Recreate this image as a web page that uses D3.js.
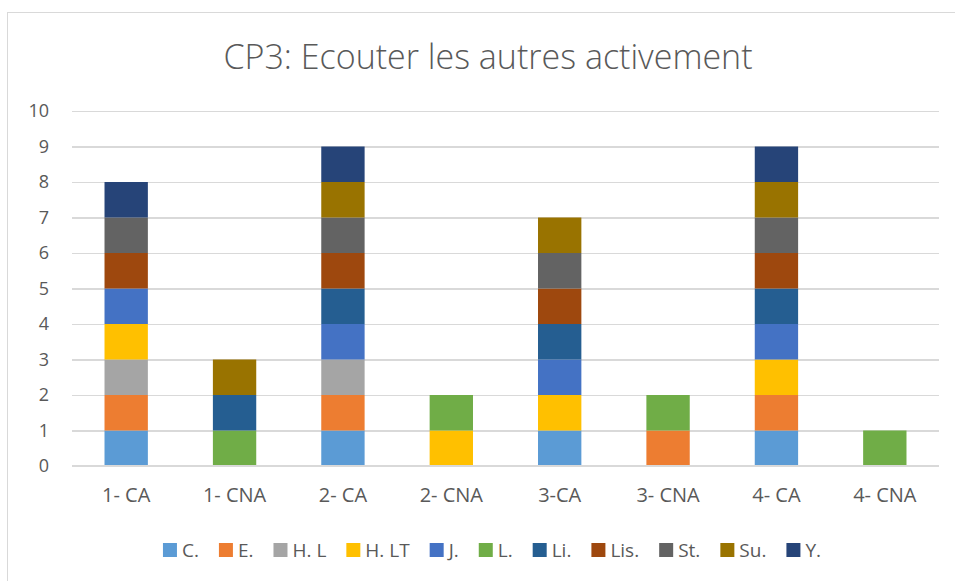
<!DOCTYPE html>
<html>
<head>
<meta charset="utf-8">
<script src="https://cdn.jsdelivr.net/npm/d3@7"></script>
<style>
	body { margin: 0; background: #fff; }
	svg text { font-family: "Open Sans", sans-serif; }
	.grid line { stroke: #d9d9d9; stroke-width: 1.3; shape-rendering: crispEdges; }
	.grid path { display: none; }
	.grid text, .xaxis text { fill: #595959; }
	.xaxis path, .xaxis line { display: none; }
	.frame { fill: none; stroke: #d9d9d9; }
</style>
</head>
<body>
<script>
	// categories on the x axis
	var categories = ["1- CA", "1- CNA", "2- CA", "2- CNA", "3-CA", "3- CNA", "4- CA", "4- CNA"];
	// series names (legend order = stacking order)
	var seriesNames = ["C.", "E.", "H. L", "H. LT", "J.", "L.", "Li.", "Lis.", "St.", "Su.", "Y."];
	var seriesColors = ["#5b9bd5", "#ed7d31", "#a5a5a5", "#ffc000", "#4472c4", "#70ad47", "#255e91", "#9e480e", "#636363", "#997300", "#264478"];
	// one value per category, for each series
	var C   = [1, 0, 1, 0, 1, 0, 1, 0];
	var E   = [1, 0, 1, 0, 0, 1, 1, 0];
	var HL  = [1, 0, 1, 0, 0, 0, 0, 0];
	var HLT = [1, 0, 0, 1, 1, 0, 1, 0];
	var J   = [1, 0, 1, 0, 1, 0, 1, 0];
	var L   = [0, 1, 0, 1, 0, 1, 0, 1];
	var Li  = [0, 1, 1, 0, 1, 0, 1, 0];
	var Lis = [1, 0, 1, 0, 1, 0, 1, 0];
	var St  = [1, 0, 1, 0, 1, 0, 1, 0];
	var Su  = [0, 1, 1, 0, 1, 0, 1, 0];
	var Y   = [1, 0, 1, 0, 0, 0, 1, 0];
	var yTicks = [0, 1, 2, 3, 4, 5, 6, 7, 8, 9, 10];
	var title = "CP3: Ecouter les autres activement";

	var seriesValues = [C, E, HL, HLT, J, L, Li, Lis, St, Su, Y];

	var w = 955, h = 581;
	var margin = {left: 72, right: 16, top: 111, bottom: 115};

	// table for d3.stack
	var table = categories.map(function (c, i) {
		var row = {cat: c};
		seriesNames.forEach(function (s, k) { row[s] = seriesValues[k][i]; });
		return row;
	});
	var stacked = d3.stack().keys(seriesNames)(table);

	var svg = d3.select("body").append("svg")
		.attr("width", w)
		.attr("height", h);

	svg.append("rect")
		.attr("class", "frame")
		.attr("x", 7.5)
		.attr("y", 12.5)
		.attr("width", 1000)
		.attr("height", 700);

	svg.append("text")
		.attr("x", 488)
		.attr("y", 69)
		.attr("text-anchor", "middle")
		.attr("fill", "#595959")
		.style("font-size", "34px")
		.style("font-weight", 300)
		.text(title);

	var x = d3.scaleBand()
		.domain(categories)
		.range([margin.left, w - margin.right])
		.padding(0);

	var y = d3.scaleLinear()
		.domain([0, 10])
		.range([h - margin.bottom, margin.top]);

	var plotW = w - margin.right - margin.left;

	svg.append("g")
		.attr("class", "grid")
		.attr("transform", "translate(" + margin.left + ",0)")
		.call(d3.axisLeft(y).tickValues(yTicks).tickSize(-plotW).tickPadding(23))
		.selectAll("text")
		.style("font-size", "18px");

	var barW = x.bandwidth() * 0.4;

	svg.append("g").selectAll("g")
		.data(stacked)
		.enter().append("g")
		.attr("fill", function (d, i) { return seriesColors[i]; })
		.selectAll("rect")
		.data(function (d) { return d; })
		.enter().append("rect")
		.filter(function (d) { return d[1] - d[0] > 0; })
		.attr("x", function (d) { return x(d.data.cat) + (x.bandwidth() - barW) / 2; })
		.attr("y", function (d) { return y(d[1]); })
		.attr("width", barW)
		.attr("height", function (d) { return y(d[0]) - y(d[1]); });

	// zero line on top
	svg.append("line")
		.attr("x1", margin.left).attr("x2", w - margin.right)
		.attr("y1", y(0)).attr("y2", y(0))
		.attr("stroke", "#d9d9d9").attr("stroke-width", 2);

	svg.append("g")
		.attr("class", "xaxis")
		.attr("transform", "translate(0," + y(0) + ")")
		.call(d3.axisBottom(x).tickSize(0).tickPadding(22))
		.selectAll("text")
		.style("font-size", "20px");

	// legend
	var legend = svg.append("g").attr("class", "legend");
	var lx = 0;
	seriesNames.forEach(function (s, i) {
		var item = legend.append("g").attr("transform", "translate(" + lx + ",0)");
		item.append("rect")
			.attr("x", 0).attr("y", -7)
			.attr("width", 14).attr("height", 14)
			.attr("fill", seriesColors[i]);
		var t = item.append("text")
			.attr("x", 19).attr("y", 7)
			.attr("fill", "#595959")
			.style("font-size", "19px")
			.text(s);
		lx += 19 + t.node().getComputedTextLength() + 20;
	});
	lx -= 20;
	legend.attr("transform", "translate(" + (492 - lx / 2) + ",550)");
</script>
</body>
</html>
